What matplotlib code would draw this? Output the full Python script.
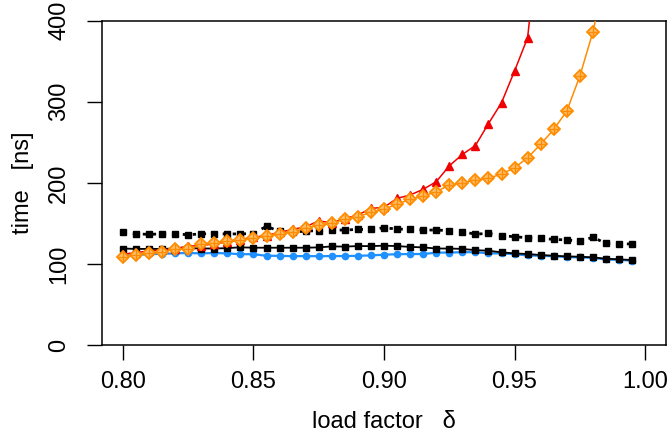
import matplotlib
matplotlib.use("Agg")
import matplotlib.pyplot as plt

plt.rcParams['font.family'] = ['Liberation Sans', 'DejaVu Sans']

# load factor values (x)
x_all = [0.800, 0.805, 0.810, 0.815, 0.820, 0.825, 0.830, 0.835, 0.840, 0.845,
         0.850, 0.855, 0.860, 0.865, 0.870, 0.875, 0.880, 0.885, 0.890, 0.895,
         0.900, 0.905, 0.910, 0.915, 0.920, 0.925, 0.930, 0.935, 0.940, 0.945,
         0.950, 0.955, 0.960, 0.965, 0.970, 0.975, 0.980, 0.985, 0.990, 0.995]

blue = [110, 111, 112, 112.5, 113, 113.5, 113, 113.5, 113, 112,
        112, 110, 110, 109.5, 109.7, 109.5, 109.7, 109.7, 110, 110.5,
        111.4, 112, 112.2, 112.2, 113.9, 114, 114.5, 114.5, 113, 113,
        112, 110.5, 110, 109.5, 108.5, 108, 107.5, 105.5, 105, 104]

black_solid = [119, 118.5, 118.5, 118.5, 119, 119.5, 119, 119, 119.5, 120.5,
               120, 120, 120, 120, 120, 120.4, 121.6, 121.4, 122, 122,
               122.5, 122, 121, 120.4, 119, 119, 118.5, 117, 116.3, 114.3,
               113, 112.2, 111, 110.1, 109.3, 108.9, 108.1, 106.4, 105.7, 104.8]

black_dotted = [139, 137, 136.5, 137, 137, 136, 137, 137.5, 137, 137,
                137.5, 146.5, 140, 139, 140.6, 141, 141.8, 141.8, 142.6, 142.6,
                144.6, 143, 142.6, 141.8, 141.8, 141, 139.7, 136.7, 137.7, 135,
                133.5, 132.3, 131.5, 130.3, 129.5, 128, 132.8, 125.4, 125, 124.5]

x_red = x_all[:34]
red = [112, 114, 116, 117, 119, 122, 122.5, 125, 127, 130,
       133, 135, 139, 142.6, 145.9, 153, 150.8, 156, 160.3, 168.5,
       169.8, 180.9, 185, 192, 201.4, 221, 235, 246, 273, 298.8,
       338, 379, 530, 800]

x_orange = x_all[:39]
orange = [109, 111, 113.8, 115, 118, 118.5, 124, 126, 128.6, 129.5,
          131.5, 134.4, 137, 139.7, 143.9, 148, 150, 155, 158.2, 163.6,
          167.3, 173.9, 179.6, 183.7, 189, 197.3, 200, 203.5, 205.5, 211,
          218.6, 231, 247.5, 266, 288.5, 331.7, 386, 460, 560]

xticks = [0.80, 0.85, 0.90, 0.95, 1.00]
xticklabels = ["0.80", "0.85", "0.90", "0.95", "1.00"]
yticks = [0, 100, 200, 300, 400]
yticklabels = ["0", "100", "200", "300", "400"]

fig = plt.figure(figsize=(6.69, 4.46), dpi=100)
ax = fig.add_axes([102/669, 1 - 345/446, (666-102)/669, (345-20.7)/446])

RED = '#F00000'
ORANGE = '#FF8C00'
BLUE = '#1E90FF'

ax.plot(x_all, blue, color=BLUE, lw=1.6, marker='o', ms=4.5, mec=BLUE, mfc=BLUE, zorder=2)
ax.plot(x_all, black_solid, color='black', lw=1.3, marker='s', ms=4.8, mec='black', mfc='black', zorder=3)
ax.plot(x_all, black_dotted, color='black', lw=2.0, linestyle=(0, (1.2, 2.4)),
        marker='s', ms=4.8, mec='black', mfc='black', zorder=3)
ax.plot(x_red, red, color=RED, lw=1.1, marker='^', ms=5.5, mec=RED, mfc=RED, zorder=4)
ax.plot(x_orange, orange, color=ORANGE, lw=1.1, marker='D', ms=6.2, mec=ORANGE,
        mfc='#FFC070', mew=1.3, zorder=5)
ax.plot(x_orange, orange, linestyle='none', marker='+', ms=6.5, mec=ORANGE, mew=1.0, zorder=6)

ax.set_xlim(0.792, 1.008)
ax.set_ylim(0, 400)

ax.set_xticks(xticks)
ax.set_xticklabels(xticklabels)
ax.set_yticks(yticks)
ax.set_yticklabels(yticklabels, rotation=90, va='center')

for s in ax.spines.values():
    s.set_linewidth(1.1)
    s.set_color('black')

ax.tick_params(axis='both', direction='out', length=10.8, width=1.0, labelsize=17, colors='black')
ax.tick_params(axis='x', pad=8)
ax.tick_params(axis='y', pad=12)

ax.set_xlabel("load factor   \u03b4", fontsize=17, labelpad=13)
ax.set_ylabel("time   [ns]", fontsize=17, labelpad=10)

fig.savefig("out.png", dpi=100)
